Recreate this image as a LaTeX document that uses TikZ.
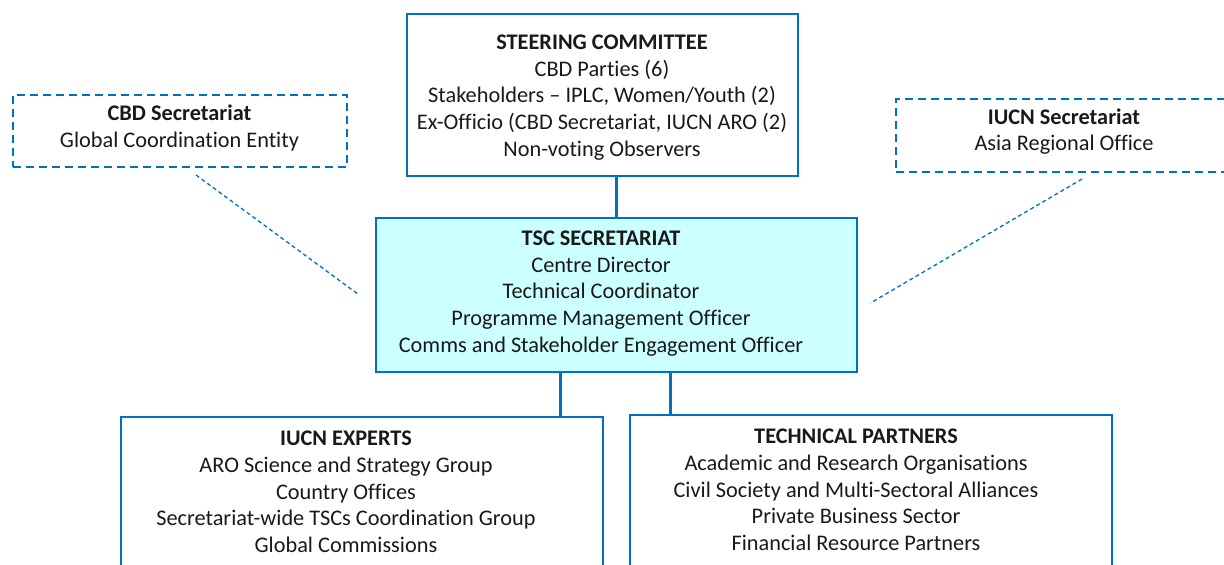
\documentclass[tikz,border=0pt]{standalone}
\usepackage{fontspec}
\setmainfont{Carlito}[Ligatures=NoCommon]
\definecolor{lineblue}{HTML}{0070C0}
\definecolor{tscfill}{HTML}{CCFFFF}
\begin{document}
\begin{tikzpicture}[x=1pt,y=1pt,
  box/.style={draw=lineblue, line width=2pt, rectangle, inner sep=0pt},
  dbox/.style={box, dash pattern=on 8pt off 5pt},
  txt/.style={align=center, font=\fontsize{22.3}{26.7}\selectfont, inner sep=0pt, text=black!90},
  link/.style={draw=lineblue, line width=3pt},
  dlink/.style={draw=lineblue, line width=1.3pt, dash pattern=on 4pt off 3pt}]
\useasboundingbox (0,0) rectangle (1224,-565);
% boxes
\node[box, minimum width=391, minimum height=162] (steer) at (602,-94.5) {};
\node[box, fill=tscfill, minimum width=481, minimum height=154] (tsc) at (616,-294.5) {};
\node[box, minimum width=482, minimum height=200, anchor=north west] (experts) at (119.5,-415.5) {};
\node[box, minimum width=482, minimum height=200, anchor=north west] (partners) at (629,-414) {};
\node[dbox, minimum width=334, minimum height=72] (cbd) at (179.5,-131) {};
\node[dbox, minimum width=336, minimum height=73] (iucnsec) at (1064,-135.5) {};
% texts
\node[txt] (steertxt) at (602,-97.5) {\textbf{STEERING COMMITTEE}\\CBD Parties (6)\\Stakeholders – IPLC, Women/Youth (2)\\Ex-Officio (CBD Secretariat, IUCN ARO (2)\\Non-voting Observers};
\node[txt] (tsctxt) at (601,-293.5) {\textbf{TSC SECRETARIAT}\\Centre Director\\Technical Coordinator\\Programme Management Officer\\Comms and Stakeholder Engagement Officer};
\node[txt] (expertstxt) at (346,-492) {\textbf{IUCN EXPERTS}\\ARO Science and Strategy Group\\Country Offices\\Secretariat-wide TSCs Coordination Group\\Global Commissions};
\node[txt] (partnerstxt) at (856,-490) {\textbf{TECHNICAL PARTNERS}\\Academic and Research Organisations\\Civil Society and Multi-Sectoral Alliances\\Private Business Sector\\Financial Resource Partners};
\node[txt] (cbdtxt) at (179.5,-128) {\textbf{CBD Secretariat}\\Global Coordination Entity};
\node[txt] (iucnsectxt) at (1064,-131.5) {\textbf{IUCN Secretariat}\\Asia Regional Office};
% connectors
\draw[link] (tsc.north) -- (tsc.north |- steer.south);
\draw[link] ([xshift=-56pt]tsc.south) -- ([xshift=-56pt]tsc.south |- experts.north);
\draw[link] ([xshift=54.5pt]tsc.south) -- ([xshift=54.5pt]tsc.south |- partners.north);
\draw[dlink] ([shift={(16.5pt,-7pt)}]cbd.south) -- ([xshift=-16pt]tsc.west);
\draw[dlink] ([shift={(18pt,-6pt)}]iucnsec.south) -- ([shift={(13pt,-8.5pt)}]tsc.east);
\end{tikzpicture}
\end{document}
